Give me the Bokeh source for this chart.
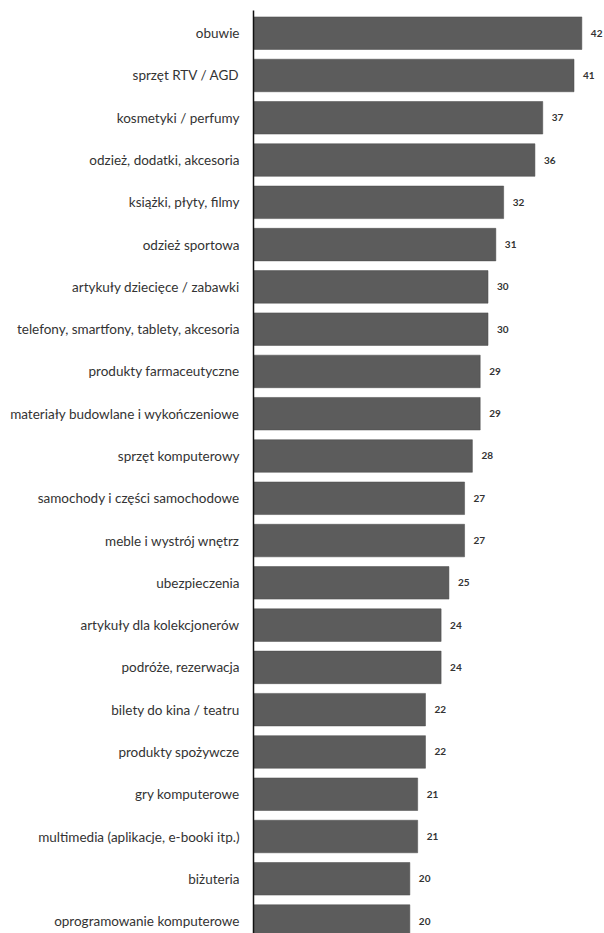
from bokeh.plotting import figure
from bokeh.models import Range1d, FixedTicker, ColumnDataSource
from bokeh.core.properties import value
from bokeh.embed import file_html
from bokeh.resources import INLINE

categories = [
    "obuwie",
    "sprzęt RTV / AGD",
    "kosmetyki / perfumy",
    "odzież, dodatki, akcesoria",
    "książki, płyty, filmy",
    "odzież sportowa",
    "artykuły dziecięce / zabawki",
    "telefony, smartfony, tablety, akcesoria",
    "produkty farmaceutyczne",
    "materiały budowlane i wykończeniowe",
    "sprzęt komputerowy",
    "samochody i części samochodowe",
    "meble i wystrój wnętrz",
    "ubezpieczenia",
    "artykuły dla kolekcjonerów",
    "podróże, rezerwacja",
    "bilety do kina / teatru",
    "produkty spożywcze",
    "gry komputerowe",
    "multimedia (aplikacje, e-booki itp.)",
    "biżuteria",
    "oprogramowanie komputerowe",
]
values = [42, 41, 37, 36, 32, 31, 30, 30, 29, 29, 28, 27, 27, 25, 24, 24, 22, 22, 21, 21, 20, 20]

pos = list(range(len(categories)))
src = ColumnDataSource(dict(y=pos, v=values, lbl=[str(v) for v in values]))

p = figure(width=604, height=933, output_backend="svg", toolbar_location=None,
           x_range=Range1d(0, 44.9), y_range=Range1d(21.294, -0.537),
           min_border_left=253, min_border_right=0, min_border_top=10, min_border_bottom=0)
p.outline_line_color = None
p.background_fill_color = "white"
p.border_fill_color = "white"
p.xgrid.visible = False
p.ygrid.visible = False
p.xaxis.visible = False

p.hbar(y="y", left=0, right="v", height=0.77, source=src,
       fill_color="#5c5c5c", line_color="#4a4a4a", line_width=0.5)
p.text(x="v", y="y", text="lbl", source=src, x_offset=9, y_offset=0,
       text_baseline="middle", text_align="left", text_font=value("Lato"),
       text_font_size="10px", text_color="#333333", text_font_style="bold")

ax = p.yaxis[0]
ax.ticker = FixedTicker(ticks=pos)
ax.major_label_overrides = {i: c for i, c in zip(pos, categories)}
ax.major_tick_line_color = None
ax.minor_tick_line_color = None
ax.axis_line_color = "#111111"
ax.axis_line_width = 1.5
ax.major_label_standoff = 8
ax.major_label_text_font = "Lato"
ax.major_label_text_font_size = "13.5px"
ax.major_label_text_color = "#333333"

open("out.html", "w").write(file_html(p, INLINE))
